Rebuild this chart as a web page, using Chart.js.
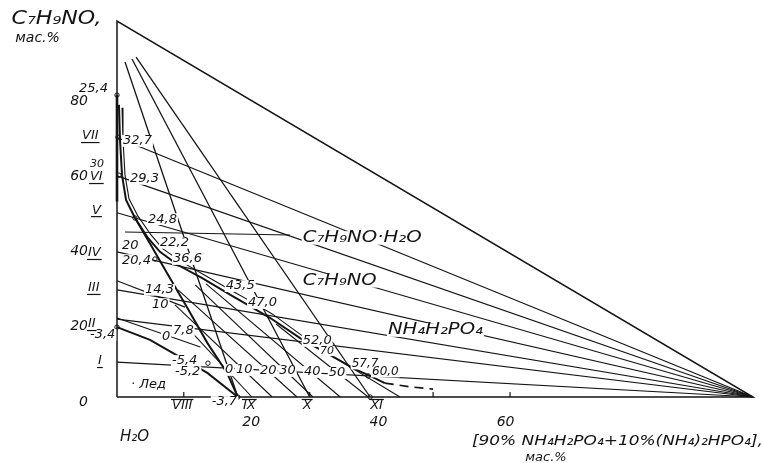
<!DOCTYPE html>
<html>
<head>
<meta charset="utf-8">
<script src="https://cdn.jsdelivr.net/npm/chart.js@4/dist/chart.umd.min.js"></script>
<style>
  html, body { margin: 0; padding: 0; background: #fff; }
</style>
</head>
<body>
<canvas id="diagram" width="762" height="463"></canvas>
<script>
// C7H9NO - [NH4H2PO4 + (NH4)2HPO4] - H2O, mass %
var ink = '#141414';

var triangle = [[0, 0], [0, 100], [100, 0], [0, 0]];

// polythermal sections I..VII: left-axis start (y, %), all run to the salt corner (100, 0)
var sectionLeft = [9.3, 20.7, 28.5, 38.6, 49.0, 58.8, 69.0];
// sections IX..XI: drawn from near the C7H9NO corner down to the base
var sectionTop = [[1.26, 89.1], [2.36, 89.9], [3.0, 90.4]];
var sectionBase = [19.0, 30.3, 39.8];

var axisThick = [[0, 80.3], [0, 52.0]];
var curveOuter = [[0.31, 77.7], [0.47, 68.4], [0.79, 59.0], [1.42, 52.4], [2.83, 47.6], [4.87, 42.3],
  [6.76, 38.6], [9.59, 35.1], [13.4, 31.6], [18.1, 26.9], [20.9, 24.2], [24.1, 21.0], [29.2, 15.2],
  [34.3, 10.4], [37.4, 7.4], [39.8, 5.6], [42.1, 3.7]];
var curveInner = [[0.79, 76.9], [0.94, 68.4], [1.26, 59.0], [1.89, 52.7], [3.30, 48.1], [5.35, 43.1],
  [7.23, 39.4], [10.1, 36.0], [13.8, 32.4], [18.4, 27.9], [21.2, 25.3], [24.4, 22.1], [29.2, 16.2]];
var curveDashed = [[42.1, 3.7], [46.1, 2.7], [49.7, 2.1]];
var boundaryLeft = [[2.83, 47.6], [5.50, 39.9], [7.86, 33.0], [11.0, 23.9], [14.2, 14.4], [17.3, 6.4], [19.0, 0]];
var iceCurve = [[0, 18.6], [5.19, 15.2], [9.91, 10.6], [14.2, 6.4], [19.0, 0]];

// isotherms 0..50 (°C) in the salt field and one more beyond
var isoStart = [[10.7, 19.1], [9.12, 24.5], [9.59, 28.5], [12.3, 29.8], [14.0, 30.1], [25.0, 19.4], [33.5, 11.2]];
var isoEnd = [21.2, 24.4, 28.3, 30.8, 35.1, 39.5, 44.5];

// short lines in the left fields
var fieldLines = [
  [[0, 30.9], [10.7, 23.9]],
  [[0, 21.0], [13.1, 13.3]],
  [[1.26, 43.9], [27.2, 43.1]]
];
var baseTicks = [10.5, 30.3, 49.7, 61.8];

var nodes = [[0, 80.3], [0.16, 69.1], [0.3, 59.0], [2.83, 47.6], [5.97, 36.7], [0, 18.6], [14.3, 9.0], [19.0, 0], [39.8, 0], [39.5, 5.6]];

var labels = [
  { t: 'C₇H₉NO,', x: -16.6, y: 100.6, s: 19, fit: 90 },
  { t: 'мас.%', x: -16.0, y: 95.3, s: 14 },
  { t: '25,4', x: -5.97, y: 81.9 },
  { t: '32,7', x: 0.94, y: 68.1 },
  { t: '30', x: -4.25, y: 62.0, s: 11 },
  { t: '29,3', x: 2.04, y: 58.0 },
  { t: '24,8', x: 4.87, y: 47.3 },
  { t: '22,2', x: 6.76, y: 41.0 },
  { t: '20', x: 0.79, y: 40.2 },
  { t: '20,4', x: 0.79, y: 36.4 },
  { t: '36,6', x: 8.81, y: 36.7 },
  { t: '14,3', x: 4.40, y: 28.5 },
  { t: '10', x: 5.50, y: 24.7 },
  { t: '43,5', x: 17.1, y: 29.5 },
  { t: '47,0', x: 20.6, y: 25.0 },
  { t: '7,8', x: 8.81, y: 17.6 },
  { t: '0', x: 7.08, y: 16.0 },
  { t: '-5,4', x: 8.65, y: 9.57 },
  { t: '-5,2', x: 9.12, y: 6.65 },
  { t: '0', x: 17.0, y: 7.18 },
  { t: '10', x: 18.7, y: 7.18 },
  { t: '20', x: 22.5, y: 6.9 },
  { t: '30', x: 25.5, y: 6.9 },
  { t: '40', x: 29.4, y: 6.65 },
  { t: '50', x: 33.3, y: 6.38 },
  { t: '52,0', x: 29.2, y: 14.9 },
  { t: '70', x: 31.9, y: 12.2, s: 11 },
  { t: '57,7', x: 36.9, y: 8.78, s: 12 },
  { t: '60,0', x: 40.1, y: 6.65, s: 12 },
  { t: '-3,4', x: -4.25, y: 16.5 },
  { t: '· Лед', x: 2.2, y: 3.19 },
  { t: '-3,7', x: 14.9, y: -1.33 },
  { t: 'C₇H₉NO·H₂O', x: 29.2, y: 42.3, s: 15, fit: 119 },
  { t: 'C₇H₉NO', x: 29.2, y: 30.9, s: 15, fit: 74 },
  { t: 'NH₄H₂PO₄', x: 42.6, y: 17.8, s: 15, fit: 95 },
  { t: 'VII', x: -5.5, y: 69.4, bar: 'under' },
  { t: 'VI', x: -4.25, y: 58.5, bar: 'under' },
  { t: 'V', x: -3.93, y: 49.7, bar: 'under' },
  { t: 'IV', x: -4.56, y: 38.3, bar: 'under' },
  { t: 'III', x: -4.56, y: 29.0, bar: 'under' },
  { t: 'II', x: -4.56, y: 19.4, bar: 'under' },
  { t: 'I', x: -2.99, y: 9.57, bar: 'under' },
  { t: 'VIII', x: 8.65, y: -2.39, bar: 'over' },
  { t: 'IX', x: 19.8, y: -2.39, bar: 'over' },
  { t: 'X', x: 29.2, y: -2.39, bar: 'over' },
  { t: 'XI', x: 39.8, y: -2.39, bar: 'over' },
  { t: 'H₂O', x: 0.47, y: -10.6, s: 15 },
  { t: '[90% NH₄H₂PO₄+10%(NH₄)₂HPO₄],', x: 55.8, y: -11.7, s: 14, fit: 291 },
  { t: 'мас.%', x: 64.2, y: -16.0, s: 13 }
];

function pts(list) {
  return list.map(function(p) { return { x: p[0], y: p[1] }; });
}

function line(list, width, dash) {
  return {
    data: pts(list),
    showLine: true,
    borderColor: ink,
    borderWidth: width,
    borderDash: dash || [],
    pointRadius: 0,
    fill: false,
    clip: false,
    tension: 0
  };
}

var datasets = [];
datasets.push(line(triangle, 1.5));
sectionLeft.forEach(function(y0) { datasets.push(line([[0, y0], [100, 0]], 1.2)); });
sectionTop.forEach(function(p, i) { datasets.push(line([p, [sectionBase[i], 0]], 1.3)); });
isoStart.forEach(function(p, i) { datasets.push(line([p, [isoEnd[i], 0]], 1.1)); });
fieldLines.forEach(function(l) { datasets.push(line(l, 1.1)); });
baseTicks.forEach(function(x) { datasets.push(line([[x, 0], [x, 1.3]], 1.2)); });
datasets.push(line(axisThick, 2.6));
datasets.push(line(curveOuter, 2.0));
datasets.push(line(curveInner, 1.1));
datasets.push(line(curveDashed, 1.6, [9, 6]));
datasets.push(line(boundaryLeft, 2.0));
datasets.push(line(iceCurve, 2.0));
datasets.push({
  data: pts(nodes),
  showLine: false,
  pointRadius: 2.2,
  pointBackgroundColor: '#fff',
  pointBorderColor: ink,
  pointBorderWidth: 1,
  clip: false
});

var textPlugin = {
  id: 'diagramText',
  afterDatasetsDraw: function(chart) {
    var ctx = chart.ctx, xs = chart.scales.x, ys = chart.scales.y;
    labels.forEach(function(l) {
      var size = l.s || 13;
      var px = xs.getPixelForValue(l.x), py = ys.getPixelForValue(l.y);
      ctx.save();
      ctx.font = 'italic ' + size + 'px "DejaVu Sans"';
      ctx.textBaseline = 'middle';
      var w = ctx.measureText(l.t).width;
      var k = l.fit ? l.fit / w : 1;
      ctx.fillStyle = '#fff';
      ctx.fillRect(px - 1, py - size * 0.45, w * k + 2, size * 0.9);
      ctx.translate(px, py);
      ctx.scale(k, 1);
      ctx.fillStyle = ink;
      ctx.fillText(l.t, 0, 0);
      ctx.restore();
      if (l.bar) {
        var by = l.bar === 'under' ? py + size * 0.5 : py - size * 0.5;
        ctx.save();
        ctx.strokeStyle = ink;
        ctx.lineWidth = 1.2;
        ctx.beginPath();
        ctx.moveTo(px - 1, by);
        ctx.lineTo(px + w * k + 1, by);
        ctx.stroke();
        ctx.restore();
      }
    });
  }
};

new Chart(document.getElementById('diagram'), {
  type: 'scatter',
  data: { datasets: datasets },
  options: {
    responsive: false,
    animation: false,
    layout: { padding: { top: 21, right: 9, left: 0, bottom: 0 } },
    plugins: { legend: { display: false }, tooltip: { enabled: false } },
    scales: {
      x: {
        type: 'linear', min: 0, max: 100,
        grid: { display: false, drawTicks: false },
        border: { display: false },
        afterBuildTicks: function(axis) { axis.ticks = [20, 40, 60].map(function(v) { return { value: v }; }); },
        afterFit: function(axis) { axis.height = 66; axis.paddingLeft = 0; axis.paddingRight = 0; },
        ticks: { color: ink, padding: 17, labelOffset: 7, maxRotation: 0, font: { family: 'DejaVu Sans', style: 'italic', size: 14 } }
      },
      y: {
        type: 'linear', min: 0, max: 100,
        grid: { display: false, drawTicks: false },
        border: { display: false },
        afterBuildTicks: function(axis) { axis.ticks = [0, 20, 40, 60, 80].map(function(v) { return { value: v }; }); },
        afterFit: function(axis) { axis.width = 117; axis.paddingTop = 0; axis.paddingBottom = 0; },
        ticks: { color: ink, padding: 29, labelOffset: 5, font: { family: 'DejaVu Sans', style: 'italic', size: 14 } }
      }
    }
  },
  plugins: [textPlugin]
});
</script>
</body>
</html>
